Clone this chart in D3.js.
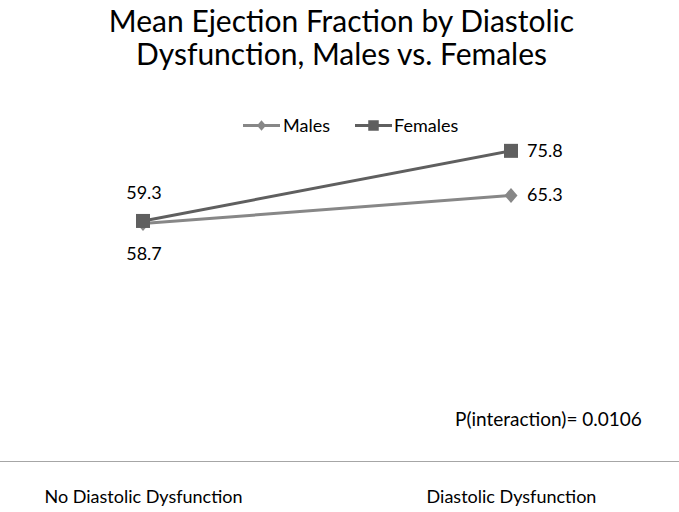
<!DOCTYPE html>
<html>
<head>
<meta charset="utf-8">
<script src="https://cdn.jsdelivr.net/npm/d3@7"></script>
<style>
  html, body { margin: 0; padding: 0; background: #fff; }
  svg { display: block; }
  text { font-family: Lato, "Open Sans", sans-serif; fill: #000; }
</style>
</head>
<body>
<script>
const categories = ["No Diastolic Dysfunction", "Diastolic Dysfunction"];
const seriesNames = ["Males", "Females"];
const males = [58.7, 65.3];
const females = [59.3, 75.8];
const titleLines = ["Mean Ejection Fraction by Diastolic", "Dysfunction, Males vs. Females"];
const note = "P(interaction)= 0.0106";

const W = 679, H = 512;
const svg = d3.select("body").append("svg").attr("width", W).attr("height", H);

const x = d3.scalePoint().domain(categories).range([143, 511]);
const y = d3.scaleLinear().domain([2.8, 80]).range([461, 133]);

const colors = { Males: "#878787", Females: "#5f5f5f" };

// title
svg.selectAll("text.title").data(titleLines).enter().append("text")
  .attr("class", "title")
  .attr("x", W / 2 + 2).attr("y", (d, i) => 32 + i * 33)
  .attr("text-anchor", "middle")
  .style("font-size", "30px")
  .text(d => d);

// axis line
svg.append("line").attr("x1", 0).attr("x2", W).attr("y1", 461.5).attr("y2", 461.5)
  .attr("stroke", "#a6a6a6").attr("stroke-width", 1);

// category labels
const xAxis = d3.axisBottom(x).tickSize(0).tickPadding(0);
const gx = svg.append("g").attr("transform", "translate(0,490)").call(xAxis);
gx.select(".domain").remove();
gx.selectAll("text").style("font-size", "18px").attr("font-family", null).attr("fill", "#000");

const series = [
  { name: "Males", values: males, labelDy: [31, 1] },
  { name: "Females", values: females, labelDy: [-28, 1] }
];

const line = d3.line().x((d, i) => x(categories[i])).y(d => y(d));

series.forEach(s => {
  svg.append("path").datum(s.values)
    .attr("d", line)
    .attr("fill", "none")
    .attr("stroke", colors[s.name])
    .attr("stroke-width", 3);
});

function marker(g, name, cx, cy, scale) {
  if (name === "Females") {
    const s = 14 * scale;
    g.append("rect").attr("x", cx - s / 2).attr("y", cy - s / 2).attr("width", s).attr("height", s)
      .attr("fill", colors[name]);
  } else {
    const w = 6.5 * scale, h = 7.5 * scale;
    g.append("path").attr("d", `M${cx},${cy - h}L${cx + w},${cy}L${cx},${cy + h}L${cx - w},${cy}Z`)
      .attr("fill", colors[name]);
  }
}

series.forEach(s => {
  s.values.forEach((v, i) => marker(svg, s.name, x(categories[i]), y(v), 1));
});

// data labels
series.forEach(s => {
  s.values.forEach((v, i) => {
    const cx = x(categories[i]), cy = y(v);
    const t = svg.append("text").style("font-size", "18px").text(v.toFixed(1));
    if (i === 0) {
      t.attr("x", cx + 1).attr("y", cy + s.labelDy[0] + 6).attr("text-anchor", "middle");
    } else {
      t.attr("x", cx + 16).attr("y", cy + 6).attr("text-anchor", "start");
    }
  });
});

// legend
const legend = [
  { name: "Males", x0: 243, x1: 280, tx: 283 },
  { name: "Females", x0: 355, x1: 392, tx: 394 }
];
legend.forEach(l => {
  svg.append("line").attr("x1", l.x0).attr("x2", l.x1).attr("y1", 125.5).attr("y2", 125.5)
    .attr("stroke", colors[l.name]).attr("stroke-width", 3);
  marker(svg, l.name, (l.x0 + l.x1) / 2, 125.5, l.name === "Females" ? 0.75 : 0.7);
  svg.append("text").attr("x", l.tx).attr("y", 131.5).style("font-size", "18px").text(l.name);
});

// note
svg.append("text").attr("x", 455).attr("y", 426).style("font-size", "19px").text(note);
</script>
</body>
</html>
